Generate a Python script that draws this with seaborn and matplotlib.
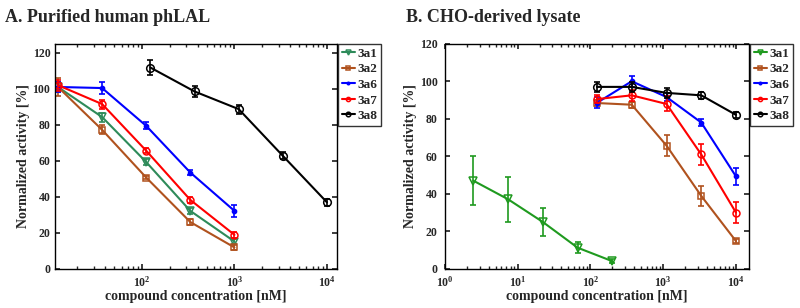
import numpy as np
import pandas as pd
import matplotlib
matplotlib.use("Agg")
import matplotlib.pyplot as plt
import seaborn as sns

compounds = ["3a1", "3a2", "3a6", "3a7", "3a8"]

# panel A: purified human phLAL
conc_a_low = [12.3, 37, 111, 333, 1000]
conc_a_high = [123, 370, 1111, 3333, 10000]
act_a = {
    "3a1": [101, 84.3, 59.3, 32.2, 15.2],
    "3a2": [101, 77.2, 50.7, 26.0, 11.9],
    "3a6": [101, 100.4, 79.4, 53.5, 32.2],
    "3a7": [102, 91.5, 65.6, 38.3, 18.9],
    "3a8": [111.8, 98.5, 88.7, 62.8, 37.0],
}
err_a = {
    "3a1": [3, 2.5, 1.5, 1.5, 1.5],
    "3a2": [5, 2.5, 1, 1.5, 1.5],
    "3a6": [3, 3.5, 2, 1.5, 3.5],
    "3a7": [3, 2.5, 1.5, 1.5, 1.5],
    "3a8": [4, 3, 2.5, 2, 2],
}

# panel B: CHO-derived lysate
conc_b_low = [2.47, 7.4, 22.2, 66.7, 200]
conc_b_high = [123, 370, 1111, 3333, 10000]
act_b = {
    "3a1": [47, 37.1, 25, 11.3, 4.1],
    "3a2": [88.4, 87.5, 65.7, 38.9, 14.8],
    "3a6": [88.5, 100, 91.6, 78, 49.3],
    "3a7": [90.5, 92.5, 87.9, 61, 30],
    "3a8": [97, 97, 93.8, 92.5, 82.1],
}
err_b = {
    "3a1": [13, 12, 7.5, 3, 1],
    "3a2": [1.5, 1.5, 5.5, 5.5, 1],
    "3a6": [3, 3, 2, 2, 4.5],
    "3a7": [2, 3, 4, 5.5, 5.5],
    "3a8": [2.5, 2.5, 2.5, 2, 1.5],
}

markers = {"3a1": "v", "3a2": "s", "3a6": ".", "3a7": "o", "3a8": "o"}
msizes = {"3a1": 6, "3a2": 4.5, "3a6": 6, "3a7": 5, "3a8": 5.5}
colors_a = {"3a1": "#2e8b5a", "3a2": "#b0521e", "3a6": "#0000ff", "3a7": "#ff0000", "3a8": "#000000"}
colors_b = {"3a1": "#1f9a1f", "3a2": "#b0521e", "3a6": "#0000ff", "3a7": "#ff0000", "3a8": "#000000"}

sns.set_theme(style="ticks")
plt.rcParams["font.family"] = ["Liberation Serif", "DejaVu Serif"]
plt.rcParams["font.weight"] = "bold"

fig = plt.figure(figsize=(8, 3.08), dpi=100)
ax_a = fig.add_axes([0.069, 0.127, 0.352, 0.731])
ax_b = fig.add_axes([0.556, 0.127, 0.380, 0.731])


def draw_panel(ax, act, err, colors, low, high, panel_b=False):
    ax.set_xscale("log")
    for c in compounds:
        if panel_b:
            x = low if c == "3a1" else high
        else:
            x = high if c == "3a8" else low
        df = pd.DataFrame({"conc": x, "act": act[c]})
        fill = colors[c] if c == "3a6" else "none"
        sns.lineplot(data=df, x="conc", y="act", ax=ax, color=colors[c], marker=markers[c],
                     markersize=msizes[c], markerfacecolor=fill, markeredgecolor=colors[c],
                     markeredgewidth=1.1, linewidth=1.5, label=c)
        ax.errorbar(x, act[c], yerr=err[c], fmt="none", ecolor=colors[c], elinewidth=1.2,
                    capsize=2.5, capthick=1.2)
    ax.tick_params(which="both", direction="in", top=True, right=True, labelsize=8.5)
    ax.tick_params(axis="x", which="major", pad=4.5)
    ax.tick_params(which="major", length=3.5)
    ax.tick_params(which="minor", length=2)
    for s in ax.spines.values():
        s.set_linewidth(1.0)
        s.set_color("black")
    ax.set_xlabel("compound concentration [nM]", fontsize=10, fontweight="bold", labelpad=0)
    ax.set_ylabel("Normalized activity [%]", fontsize=10, fontweight="bold", labelpad=2)
    leg = ax.legend(loc="upper left", bbox_to_anchor=(1.003, 1.0), frameon=True, fancybox=False,
                    fontsize=9.5, handlelength=1.0, handletextpad=0.2, borderpad=0.3,
                    labelspacing=0.25, borderaxespad=0, markerscale=0.6)
    leg.get_frame().set_edgecolor("black")
    leg.get_frame().set_linewidth(1.0)
    for t in leg.get_texts():
        t.set_fontweight("bold")


draw_panel(ax_a, act_a, err_a, colors_a, conc_a_low, conc_a_high)
ax_a.set_xlim(11.5, 12800)
ax_a.set_ylim(0, 125)
ax_a.set_yticks([0, 20, 40, 60, 80, 100, 120])
ax_a.set_xticks([100, 1000, 10000])

draw_panel(ax_b, act_b, err_b, colors_b, conc_b_low, conc_b_high, panel_b=True)
ax_b.set_xlim(1, 15000)
ax_b.set_ylim(0, 120)
ax_b.set_yticks([0, 20, 40, 60, 80, 100, 120])
ax_b.set_xticks([1, 10, 100, 1000, 10000])
ax_b.tick_params(axis="y", which="major", pad=5)

for ax in (ax_a, ax_b):
    for lbl in ax.get_xticklabels() + ax.get_yticklabels():
        lbl.set_fontweight("bold")

fig.text(0.006, 0.93, "A. Purified human phLAL", fontsize=13, fontweight="bold")
fig.text(0.508, 0.93, "B. CHO-derived lysate", fontsize=13, fontweight="bold")

fig.savefig("out.png", dpi=100)
